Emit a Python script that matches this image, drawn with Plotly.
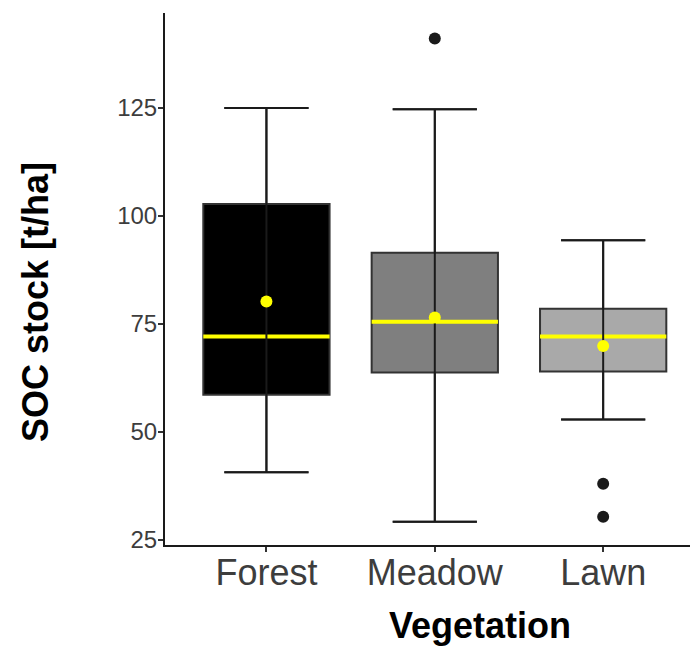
import plotly.graph_objects as go

# ---- data ----
categories = ["Forest", "Meadow", "Lawn"]
q1_vals = [58.6, 63.8, 64.0]
median_vals = [72.1, 75.5, 72.1]
q3_vals = [102.8, 91.5, 78.5]
lower_whisker = [40.7, 29.2, 52.9]
upper_whisker = [125.0, 124.7, 94.4]
mean_vals = [80.2, 76.5, 69.9]
outlier_cats = ["Meadow", "Lawn", "Lawn"]
outlier_vals = [141.1, 38.0, 30.4]
y_ticks = [25, 50, 75, 100, 125]

# ---- styles ----
fill_colors = ["#000000", "#7f7f7f", "#a9a9a9"]
box_line = "#333333"
whisker_color = "#1a1a1a"
yellow = "#ffff00"
font_family = "Liberation Sans, Arial, sans-serif"
BOX_W = 0.75
CAP_W = 0.5

pos = {c: i + 1 for i, c in enumerate(categories)}
xs = [pos[c] for c in categories]

fig = go.Figure()

# boxes
for i, c in enumerate(categories):
    fig.add_trace(go.Box(
        x=[xs[i]], q1=[q1_vals[i]], median=[median_vals[i]], q3=[q3_vals[i]],
        lowerfence=[lower_whisker[i]], upperfence=[upper_whisker[i]],
        width=BOX_W, whiskerwidth=CAP_W / BOX_W,
        fillcolor=fill_colors[i], line=dict(color=box_line, width=2),
        boxpoints=False, showlegend=False, hoverinfo="skip", name=c,
    ))

# yellow median lines
mx, my = [], []
for i in range(len(categories)):
    mx += [xs[i] - BOX_W / 2, xs[i] + BOX_W / 2, None]
    my += [median_vals[i], median_vals[i], None]
fig.add_trace(go.Scatter(x=mx, y=my, mode="lines",
                         line=dict(color=yellow, width=4), showlegend=False, hoverinfo="skip"))

# errorbar vertical lines (through the box) and caps
ex, ey = [], []
for i in range(len(categories)):
    ex += [xs[i], xs[i], None]
    ey += [lower_whisker[i], upper_whisker[i], None]
    for v in (lower_whisker[i], upper_whisker[i]):
        ex += [xs[i] - CAP_W / 2, xs[i] + CAP_W / 2, None]
        ey += [v, v, None]
fig.add_trace(go.Scatter(x=ex, y=ey, mode="lines",
                         line=dict(color=whisker_color, width=2), showlegend=False, hoverinfo="skip"))

# means
fig.add_trace(go.Scatter(x=xs, y=mean_vals, mode="markers",
                         marker=dict(color=yellow, size=12, line=dict(width=0)),
                         showlegend=False, hoverinfo="skip"))

# outliers
fig.add_trace(go.Scatter(x=[pos[c] for c in outlier_cats], y=outlier_vals, mode="markers",
                         marker=dict(color="#1a1a1a", size=12, line=dict(width=0)),
                         showlegend=False, hoverinfo="skip"))

fig.update_layout(
    width=690, height=655,
    margin=dict(l=165, r=0, t=13, b=110),
    paper_bgcolor="white", plot_bgcolor="white",
    font=dict(family=font_family),
    showlegend=False,
    xaxis=dict(
        range=[0.3976, 3.5157], tickmode="array", tickvals=xs, ticktext=categories,
        showline=True, linecolor="#1a1a1a", linewidth=2,
        ticks="outside", ticklen=5, tickwidth=1.5, tickcolor="#333333",
        tickfont=dict(size=36, color="#3d3d3d"), ticklabelstandoff=-10,
        showgrid=False, zeroline=False, automargin=False,
    ),
    yaxis=dict(
        range=[23.84, 146.99], tickmode="array", tickvals=y_ticks,
        showline=True, linecolor="#1a1a1a", linewidth=2,
        ticks="outside", ticklen=5, tickwidth=1.5, tickcolor="#333333",
        tickfont=dict(size=24, color="#3d3d3d"), ticklabelstandoff=-4,
        showgrid=False, zeroline=False, automargin=False,
    ),
    annotations=[
        dict(text="<b>SOC stock [t/ha]</b>", xref="paper", yref="paper",
             x=-0.2457, y=0.4568, xanchor="center", yanchor="middle", textangle=-90,
             showarrow=False, font=dict(size=36, color="black")),
        dict(text="<b>Vegetation</b>", xref="paper", yref="paper",
             x=0.6, y=-0.152, xanchor="center", yanchor="middle",
             showarrow=False, font=dict(size=36, color="black")),
    ],
)

# remove the browser's default page margin so the figure fills the window exactly
fig.write_html(
    "out.html",
    config={"displayModeBar": False},
    post_script="document.body.style.margin='0';document.body.style.overflow='hidden';",
)
